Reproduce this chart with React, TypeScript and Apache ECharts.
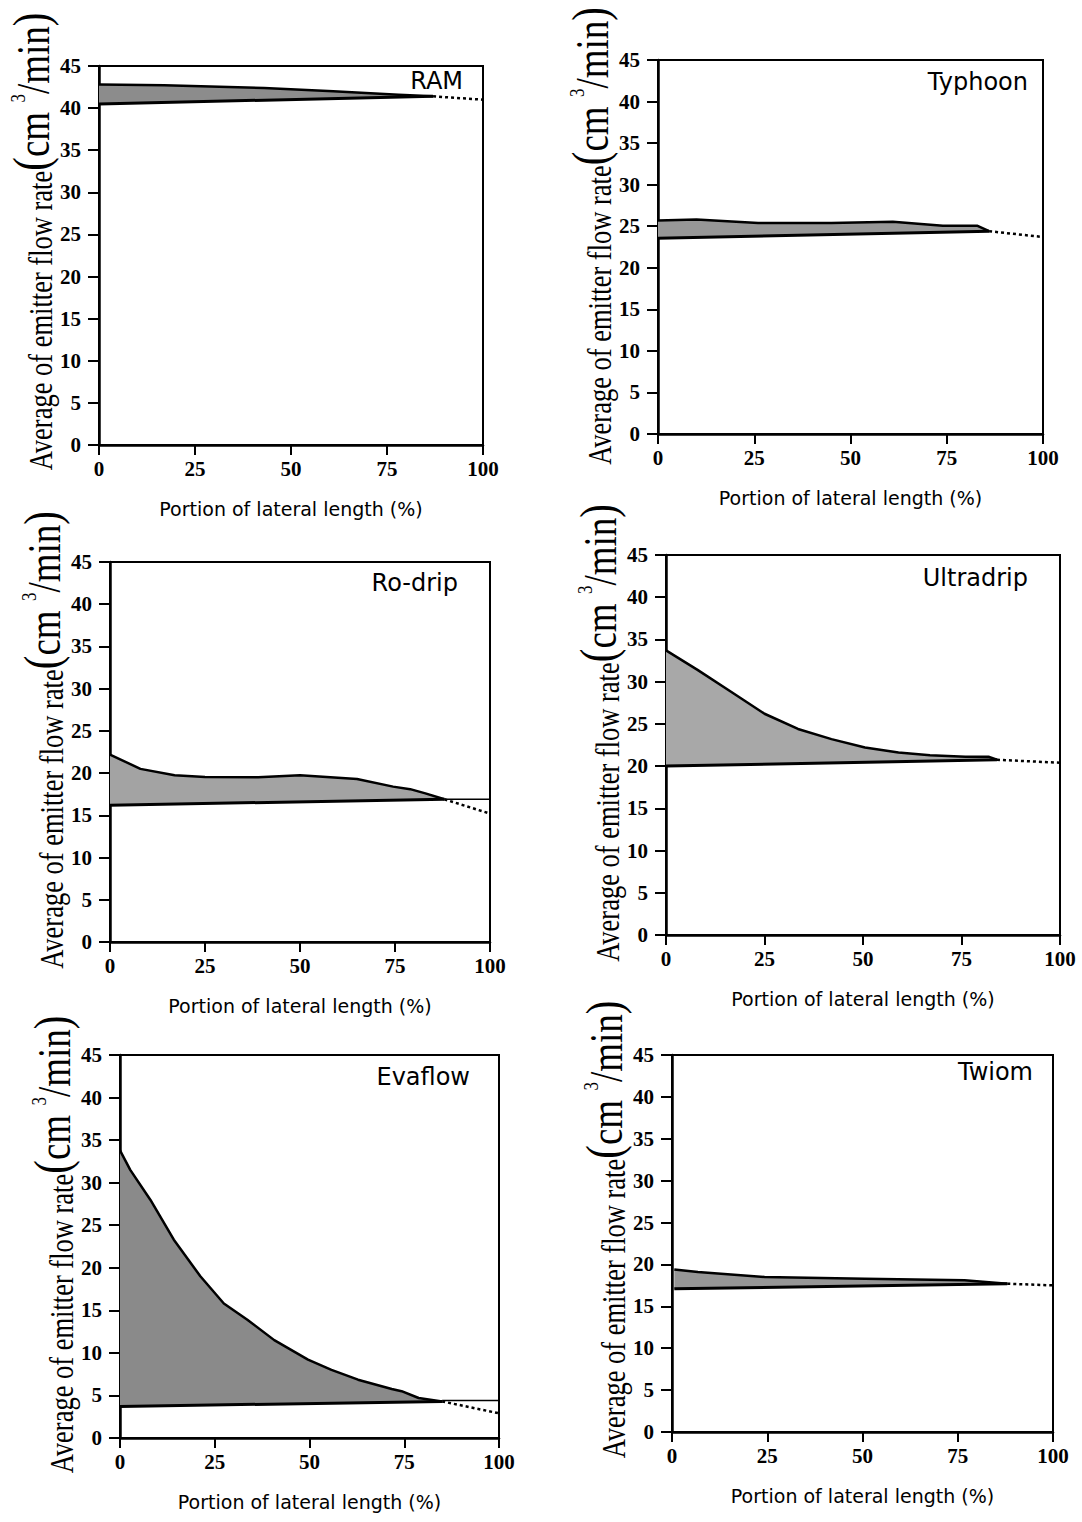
import React, { useEffect, useRef } from "react";
import * as echarts from "echarts";

// Emitter flow rate (cm³/min) along the lateral (% of length).
// Each panel: upper boundary, lower boundary (shaded between them) and the tail past convergence.

const emitterNames = ["RAM", "Typhoon", "Ro-drip", "Ultradrip", "Evaflow", "Twiom"];

const xTickValues = [0, 25, 50, 75, 100];
const yTickValues = [0, 5, 10, 15, 20, 25, 30, 35, 40, 45];

// RAM
const ramUpperX = [0, 17, 43, 61, 78, 87];
const ramUpperY = [42.8, 42.7, 42.4, 42.0, 41.6, 41.4];
const ramLowerX = [0, 87];
const ramLowerY = [40.5, 41.4];
const ramTailX = [87, 100];
const ramTailY = [41.4, 41.0];

// Typhoon
const typhoonUpperX = [0, 10, 26, 45, 61, 74, 83, 86];
const typhoonUpperY = [25.7, 25.8, 25.4, 25.4, 25.55, 25.05, 25.05, 24.4];
const typhoonLowerX = [0, 86];
const typhoonLowerY = [23.55, 24.4];
const typhoonTailX = [86, 100];
const typhoonTailY = [24.4, 23.7];

// Ro-drip
const rodripUpperX = [0, 8, 17, 25, 39, 50, 57, 65, 74.5, 79, 83, 88];
const rodripUpperY = [22.2, 20.5, 19.75, 19.55, 19.5, 19.75, 19.55, 19.3, 18.4, 18.1, 17.6, 16.9];
const rodripLowerX = [0, 88];
const rodripLowerY = [16.2, 16.9];
const rodripTailX = [88, 100];
const rodripTailY = [16.9, 15.2];
const rodripFlatX = [88, 100];
const rodripFlatY = [16.9, 16.9];

// Ultradrip
const ultradripUpperX = [0, 8, 16.5, 25, 33.5, 42, 50.5, 59, 67, 76, 82, 84];
const ultradripUpperY = [33.7, 31.4, 28.8, 26.2, 24.4, 23.2, 22.2, 21.6, 21.3, 21.1, 21.1, 20.75];
const ultradripLowerX = [0, 84];
const ultradripLowerY = [20.0, 20.75];
const ultradripTailX = [84, 100];
const ultradripTailY = [20.75, 20.4];

// Evaflow
const evaflowUpperX = [0, 2.7, 8, 14.2, 21.2, 27.4, 33.6, 40.7, 49.6, 55.8, 62.8, 71.7, 74.3, 78.8, 85];
const evaflowUpperY = [33.8, 31.5, 28.0, 23.3, 19.0, 15.8, 13.9, 11.5, 9.2, 8.0, 6.85, 5.75, 5.5, 4.7, 4.3];
const evaflowLowerX = [0, 85];
const evaflowLowerY = [3.7, 4.3];
const evaflowTailX = [85, 100];
const evaflowTailY = [4.3, 2.9];
const evaflowFlatX = [85, 100];
const evaflowFlatY = [4.4, 4.4];

// Twiom
const twiomUpperX = [0.6, 6.8, 24.3, 50.6, 76.8, 88];
const twiomUpperY = [19.4, 19.1, 18.5, 18.3, 18.1, 17.7];
const twiomLowerX = [0.6, 88];
const twiomLowerY = [17.1, 17.7];
const twiomTailX = [88, 100];
const twiomTailY = [17.7, 17.5];

const zip = (xs: number[], ys: number[]) => xs.map((x, i) => [x, ys[i]]);

const panelData = [
  { upper: zip(ramUpperX, ramUpperY), lower: zip(ramLowerX, ramLowerY), tail: zip(ramTailX, ramTailY), flat: null },
  { upper: zip(typhoonUpperX, typhoonUpperY), lower: zip(typhoonLowerX, typhoonLowerY), tail: zip(typhoonTailX, typhoonTailY), flat: null },
  { upper: zip(rodripUpperX, rodripUpperY), lower: zip(rodripLowerX, rodripLowerY), tail: zip(rodripTailX, rodripTailY), flat: zip(rodripFlatX, rodripFlatY) },
  { upper: zip(ultradripUpperX, ultradripUpperY), lower: zip(ultradripLowerX, ultradripLowerY), tail: zip(ultradripTailX, ultradripTailY), flat: null },
  { upper: zip(evaflowUpperX, evaflowUpperY), lower: zip(evaflowLowerX, evaflowLowerY), tail: zip(evaflowTailX, evaflowTailY), flat: zip(evaflowFlatX, evaflowFlatY) },
  { upper: zip(twiomUpperX, twiomUpperY), lower: zip(twiomLowerX, twiomLowerY), tail: zip(twiomTailX, twiomTailY), flat: null },
];

// Plot boxes in page pixels, plus title / axis-name offsets
const panelBoxes = [
  { left: 99, top: 66, width: 384, height: 379, titleRight: 20, titleTop: 15, nameDy: -14 },
  { left: 658, top: 60, width: 385, height: 374, titleRight: 15, titleTop: 22, nameDy: -11 },
  { left: 110, top: 562, width: 380, height: 380, titleRight: 32, titleTop: 21, nameDy: -12 },
  { left: 666, top: 555, width: 394, height: 380, titleRight: 32, titleTop: 23, nameDy: -12 },
  { left: 120, top: 1055, width: 379, height: 383, titleRight: 29, titleTop: 22, nameDy: -2 },
  { left: 672, top: 1055, width: 381, height: 377, titleRight: 20, titleTop: 17, nameDy: -14 },
];

const bandColors = ["#8c8c8c", "#979797", "#a3a3a3", "#a8a8a8", "#8a8a8a", "#969696"];

const SERIF = '"Liberation Serif", "Times New Roman", serif';
const SANS = '"DejaVu Sans", sans-serif';

function buildOption() {
  const grid: any[] = [];
  const xAxis: any[] = [];
  const yAxis: any[] = [];
  const series: any[] = [];
  const graphic: any[] = [];

  panelBoxes.forEach((b, i) => {
    grid.push({
      left: b.left,
      top: b.top,
      width: b.width,
      height: b.height,
      show: true,
      borderColor: "#000",
      borderWidth: 2,
      backgroundColor: "transparent",
    });
    xAxis.push({
      gridIndex: i,
      type: "value",
      min: xTickValues[0],
      max: xTickValues[xTickValues.length - 1],
      interval: xTickValues[1] - xTickValues[0],
      axisLine: { show: true, onZero: false, lineStyle: { color: "#000", width: 2.5 } },
      axisTick: { show: true, length: 10, lineStyle: { color: "#000", width: 2 } },
      splitLine: { show: false },
      axisLabel: { color: "#000", fontFamily: SERIF, fontSize: 21, fontWeight: "bold", margin: 13 },
      name: "Portion of lateral length (%)",
      nameLocation: "middle",
      nameGap: 54,
      nameTextStyle: { color: "#000", fontFamily: SANS, fontSize: 19 },
    });
    yAxis.push({
      gridIndex: i,
      type: "value",
      min: yTickValues[0],
      max: yTickValues[yTickValues.length - 1],
      interval: yTickValues[1] - yTickValues[0],
      axisLine: { show: true, onZero: false, lineStyle: { color: "#000", width: 2.5 } },
      axisTick: { show: true, length: 11, lineStyle: { color: "#000", width: 2 } },
      splitLine: { show: false },
      axisLabel: { color: "#000", fontFamily: SERIF, fontSize: 21, fontWeight: "bold", margin: 18 },
    });

    const d = panelData[i];
    const poly = [...d.upper, ...d.lower.slice().reverse()];
    const fill = bandColors[i];
    series.push({
      type: "custom",
      xAxisIndex: i,
      yAxisIndex: i,
      silent: true,
      z: 1,
      data: poly,
      renderItem: (params: any, api: any) => {
        if (params.dataIndex !== 0) return null;
        const pts = poly.map((p) => api.coord(p));
        return { type: "polygon", shape: { points: pts }, style: { fill, stroke: "none" } };
      },
    });
    const lineBase = {
      type: "line",
      xAxisIndex: i,
      yAxisIndex: i,
      symbol: "none",
      silent: true,
      z: 3,
    };
    series.push({ ...lineBase, data: d.upper, lineStyle: { color: "#000", width: 2.5, join: "round" } });
    series.push({ ...lineBase, data: d.lower, lineStyle: { color: "#000", width: 3 } });
    series.push({ ...lineBase, data: d.tail, lineStyle: { color: "#000", width: 2.5, type: [3, 3] } });
    if (d.flat) {
      series.push({ ...lineBase, data: d.flat, lineStyle: { color: "#000", width: 1.5 } });
    }

    // panel title
    graphic.push({
      type: "text",
      x: b.left + b.width - b.titleRight,
      y: b.top + b.titleTop,
      silent: true,
      style: {
        text: emitterNames[i],
        fill: "#000",
        fontFamily: SANS,
        fontSize: 24,
        align: "right",
        verticalAlign: "middle",
        textAlign: "right",
        textVerticalAlign: "middle",
      },
    });

    // rotated y-axis name
    graphic.push({
      type: "text",
      x: b.left - 67,
      y: b.top + b.height / 2 + b.nameDy,
      rotation: Math.PI / 2,
      scaleY: 1.25,
      silent: true,
      style: {
        text: "{a|Average of emitter flow rate}{p|(}{b|cm }{s|3}{b|/min}{p|)}",
        align: "center",
        verticalAlign: "middle",
        textAlign: "center",
        textVerticalAlign: "middle",
        fill: "#000",
        rich: {
          a: { fontFamily: SERIF, fontSize: 26.5, lineHeight: 26, verticalAlign: "bottom", fill: "#000" },
          b: { fontFamily: SERIF, fontSize: 37, lineHeight: 36, verticalAlign: "bottom", fill: "#000" },
          p: { fontFamily: SERIF, fontSize: 41, lineHeight: 40, verticalAlign: "bottom", fill: "#000" },
          s: { fontFamily: SERIF, fontSize: 17, lineHeight: 17, verticalAlign: "top", fill: "#000" },
        },
      },
    });
  });

  return {
    animation: false,
    backgroundColor: "#fff",
    grid,
    xAxis,
    yAxis,
    series,
    graphic: { elements: graphic },
  };
}

export default function App() {
  const ref = useRef<HTMLDivElement>(null);
  useEffect(() => {
    if (!ref.current) return;
    const chart = echarts.init(ref.current, null, { renderer: "svg" });
    chart.setOption(buildOption() as any);
    return () => chart.dispose();
  }, []);
  return (
    <div
      ref={ref}
      style={{ position: "absolute", left: 0, top: 0, width: 1082, height: 1522, background: "#fff" }}
    />
  );
}
